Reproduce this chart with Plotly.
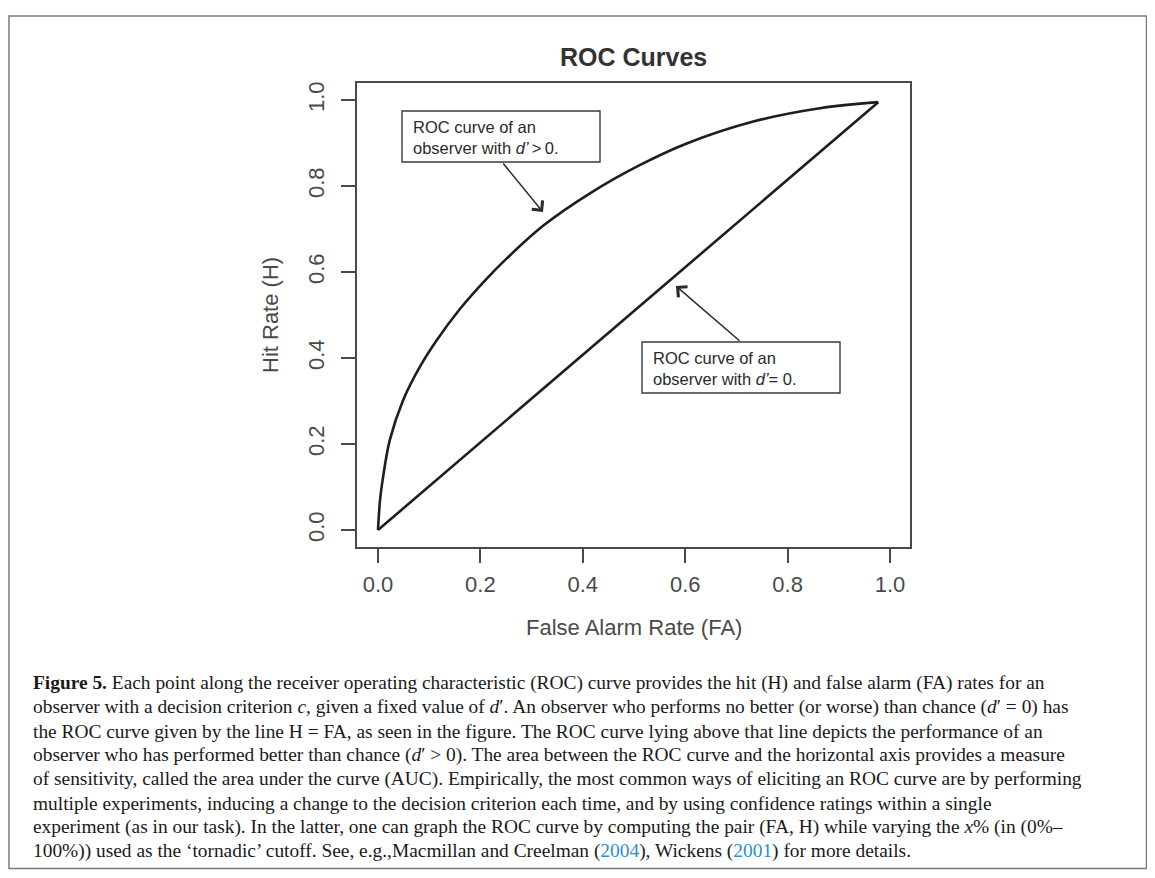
import plotly.graph_objects as go

# ---------------- data ----------------
roc_fa = [0.0, 0.004, 0.009, 0.023, 0.049, 0.082, 0.115, 0.16, 0.212, 0.251,
          0.323, 0.414, 0.512, 0.603, 0.733, 0.863, 0.977]
roc_hit = [0.0, 0.07, 0.116, 0.209, 0.302, 0.38, 0.442, 0.514, 0.584, 0.631,
           0.708, 0.783, 0.849, 0.899, 0.95, 0.981, 0.995]
chance_fa = [0.0, 0.977]
chance_hit = [0.0, 0.995]

x_ticks = [0.0, 0.2, 0.4, 0.6, 0.8, 1.0]
x_ticklabels = ["0.0", "0.2", "0.4", "0.6", "0.8", "1.0"]
y_ticks = [0.0, 0.2, 0.4, 0.6, 0.8, 1.0]
y_ticklabels = ["0.0", "0.2", "0.4", "0.6", "0.8", "1.0"]

title_text = "<b>ROC Curves</b>"
x_title = "False Alarm Rate (FA)"
y_title = "Hit Rate (H)"
note_pos = "ROC curve of an<br>observer with <i>d’</i>\u2009>\u20090."
note_zero = "ROC curve of an<br>observer with <i>d’</i>= 0."

LINK = "#2b8fcf"
caption_lines = [
    "<b>Figure 5.</b> Each point along the receiver operating characteristic (ROC) curve provides the hit (H) and false alarm (FA) rates for an",
    "observer with a decision criterion <i>c</i>, given a fixed value of <i>d</i>′. An observer who performs no better (or worse) than chance (<i>d</i>′ = 0) has",
    "the ROC curve given by the line H = FA, as seen in the figure. The ROC curve lying above that line depicts the performance of an",
    "observer who has performed better than chance (<i>d</i>′ > 0). The area between the ROC curve and the horizontal axis provides a measure",
    "of sensitivity, called the area under the curve (AUC). Empirically, the most common ways of eliciting an ROC curve are by performing",
    "multiple experiments, inducing a change to the decision criterion each time, and by using confidence ratings within a single",
    "experiment (as in our task). In the latter, one can graph the ROC curve by computing the pair (FA, H) while varying the <i>x</i>% (in (0%–",
    "100%)) used as the ‘tornadic’ cutoff. See, e.g.,Macmillan and Creelman (<span style='color:" + LINK + "'>2004</span>), Wickens (<span style='color:" + LINK + "'>2001</span>) for more details.",
]

# ---------------- layout geometry (screen pixels of the reference) ----------------
OFF = 8                                  # page body margin
W, H = 1155 - 2 * OFF, 878 - 2 * OFF
PL, PR, PT, PB = 357, 910, 83, 547       # plot box in screen pixels
X0PX, X1PX = 378, 890                    # pixel of x=0 and x=1
Y0PX, Y1PX = 530, 100                    # pixel of y=0 and y=1


def dx(px):
    return (px - X0PX) / (X1PX - X0PX)


def dy(py):
    return (Y0PX - py) / (Y0PX - Y1PX)


def paper_x(px):
    return (px - PL) / (PR - PL)


def paper_y(py):
    return (PB - py) / (PB - PT)


SANS = "Liberation Sans, Arial, Helvetica, sans-serif"
SERIF = "Liberation Serif, Times New Roman, serif"
AX_COL = "#4a4a4a"
LINE_COL = "#1e1e1e"

fig = go.Figure()
fig.add_trace(go.Scatter(x=roc_fa, y=roc_hit, mode="lines",
                         line=dict(color=LINE_COL, width=2.6, shape="spline", smoothing=1.0),
                         showlegend=False, hoverinfo="skip"))
fig.add_trace(go.Scatter(x=chance_fa, y=chance_hit, mode="lines",
                         line=dict(color=LINE_COL, width=2.6),
                         showlegend=False, hoverinfo="skip"))

axis_common = dict(showgrid=False, zeroline=False, showline=True, mirror=True,
                   linecolor=AX_COL, linewidth=1.6, ticks="outside", ticklen=14,
                   tickwidth=1.6, tickcolor=AX_COL,
                   tickfont=dict(family=SANS, size=22, color=AX_COL))

fig.update_xaxes(range=[dx(PL), dx(PR)], tickvals=x_ticks, ticktext=x_ticklabels,
                 ticklabelstandoff=3, **axis_common)
fig.update_yaxes(range=[dy(PB), dy(PT)], tickvals=y_ticks, ticktext=y_ticklabels,
                 tickangle=-90, ticklabelstandoff=8, **axis_common)

shapes = []
# outer figure frame
shapes.append(dict(type="rect", xref="paper", yref="paper",
                   x0=paper_x(9), x1=paper_x(1146.5), y0=paper_y(16), y1=paper_y(868.5),
                   line=dict(color="#7a7a7a", width=1.5), fillcolor="rgba(0,0,0,0)",
                   layer="below"))
# note boxes
for (bx0, by0, bx1, by1) in [(402, 111, 600, 162), (642, 342, 840, 393)]:
    shapes.append(dict(type="rect", xref="x", yref="y",
                       x0=dx(bx0), x1=dx(bx1), y0=dy(by1), y1=dy(by0),
                       line=dict(color="#3a3a3a", width=1.4), fillcolor="white"))

annotations = []
# title & axis titles
annotations.append(dict(text=title_text, xref="paper", yref="paper",
                        x=paper_x(633), y=paper_y(57), showarrow=False,
                        xanchor="center", yanchor="middle",
                        font=dict(family=SANS, size=25, color="#333333")))
annotations.append(dict(text=x_title, xref="paper", yref="paper",
                        x=paper_x(634), y=paper_y(627), showarrow=False,
                        xanchor="center", yanchor="middle",
                        font=dict(family=SANS, size=22, color=AX_COL)))
annotations.append(dict(text=y_title, xref="paper", yref="paper",
                        x=paper_x(270), y=paper_y(315), showarrow=False, textangle=-90,
                        xanchor="center", yanchor="middle",
                        font=dict(family=SANS, size=22, color=AX_COL)))
# note texts
annotations.append(dict(text=note_pos, xref="x", yref="y", x=dx(411), y=dy(137),
                        showarrow=False, xanchor="left", yanchor="middle", align="left",
                        font=dict(family=SANS, size=16.5, color="#2a2a2a")))
annotations.append(dict(text=note_zero, xref="x", yref="y", x=dx(651), y=dy(368),
                        showarrow=False, xanchor="left", yanchor="middle", align="left",
                        font=dict(family=SANS, size=16.5, color="#2a2a2a")))
# arrows
for (tx, ty, hx, hy) in [(502, 162, 543, 212), (741, 342, 676, 286)]:
    annotations.append(dict(text="", xref="x", yref="y", axref="x", ayref="y",
                            x=dx(hx), y=dy(hy), ax=dx(tx), ay=dy(ty),
                            showarrow=True, arrowhead=4, arrowsize=1.8, arrowwidth=1.5,
                            arrowcolor="#2a2a2a", standoff=0, startstandoff=0))
# caption
cap_y = [683, 707, 731, 755, 779, 803, 827, 851]
for line, yy in zip(caption_lines, cap_y):
    annotations.append(dict(text=line, xref="paper", yref="paper",
                            x=paper_x(31), y=paper_y(yy), showarrow=False,
                            xanchor="left", yanchor="middle", align="left",
                            font=dict(family=SERIF, size=19.4, color="#1a1a1a")))

fig.update_layout(width=W, height=H, autosize=False,
                  margin=dict(l=PL - OFF, r=W - (PR - OFF), t=PT - OFF, b=H - (PB - OFF), pad=0),
                  paper_bgcolor="white", plot_bgcolor="white",
                  shapes=shapes, annotations=annotations, showlegend=False)

fig.write_html("out.html")
